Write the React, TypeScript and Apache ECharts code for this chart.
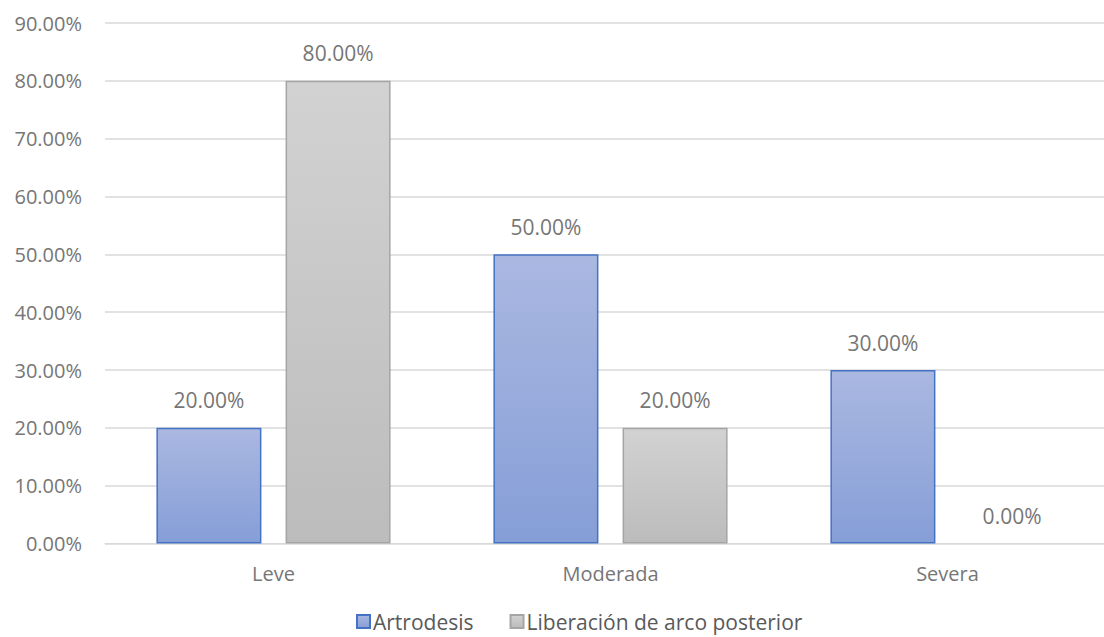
import React, { useEffect, useRef } from "react";
import * as echarts from "echarts";

const categories = ["Leve", "Moderada", "Severa"];
const artrodesis = [20, 50, 30];
const liberacion = [80, 20, 0];
const seriesNames = ["Artrodesis", "Liberación de arco posterior"];

const FONT = "'Open Sans', 'Noto Sans', sans-serif";
const pct = (v: number) => `${v.toFixed(2)}%`;

// A zero-height bar keeps its label but draws no outline.
const toItems = (values: number[]) =>
  values.map((v) => (v === 0 ? { value: v, itemStyle: { borderWidth: 0 } } : { value: v }));

export default function App() {
  const ref = useRef<HTMLDivElement>(null);

  useEffect(() => {
    if (!ref.current) return;
    const chart = echarts.init(ref.current, undefined, { renderer: "svg" });
    const label = {
      show: true,
      position: "top" as const,
      distance: 17,
      color: "#767676",
      fontSize: 21,
      fontFamily: FONT,
      formatter: (p: any) => pct(p.value),
    };
    chart.setOption({
      animation: false,
      backgroundColor: "#ffffff",
      grid: { left: 105, right: 14, top: 23, bottom: 93.5 },
      legend: {
        data: seriesNames,
        left: 351,
        top: 606,
        itemWidth: 13,
        itemHeight: 13,
        itemGap: 36,
        icon: "rect",
        textStyle: { color: "#595959", fontSize: 21, fontFamily: FONT, padding: [0, 0, 0, -2] },
      },
      xAxis: {
        type: "category",
        data: categories,
        axisLine: { show: true, lineStyle: { color: "#d9d9d9", width: 1 } },
        axisTick: { show: false },
        axisLabel: { color: "#767676", fontSize: 20, fontFamily: FONT, margin: 20 },
      },
      yAxis: {
        type: "value",
        min: 0,
        max: 90,
        interval: 10,
        axisLine: { show: false },
        axisTick: { show: false },
        splitLine: { lineStyle: { color: "#d9d9d9", width: 1.5 } },
        axisLabel: { color: "#767676", fontSize: 20, fontFamily: FONT, margin: 23, formatter: pct },
      },
      series: [
        {
          name: seriesNames[0],
          type: "bar",
          data: toItems(artrodesis),
          barWidth: 105,
          barGap: "23%",
          label,
          itemStyle: {
            color: new echarts.graphic.LinearGradient(0, 0, 0, 1, [
              { offset: 0, color: "#aab8e1" },
              { offset: 1, color: "#869ed7" },
            ]),
            borderColor: "#4472c4",
            borderWidth: 1.5,
          },
        },
        {
          name: seriesNames[1],
          type: "bar",
          data: toItems(liberacion),
          barWidth: 105,
          label,
          itemStyle: {
            color: new echarts.graphic.LinearGradient(0, 0, 0, 1, [
              { offset: 0, color: "#d2d2d2" },
              { offset: 1, color: "#bcbcbc" },
            ]),
            borderColor: "#a5a5a5",
            borderWidth: 1.5,
          },
        },
      ],
    });
    return () => chart.dispose();
  }, []);

  return (
    <div style={{ position: "fixed", left: 0, top: 0, width: 1104, height: 637, overflow: "hidden", background: "#fff" }}>
      <div ref={ref} style={{ width: 1130, height: 637 }} />
    </div>
  );
}
